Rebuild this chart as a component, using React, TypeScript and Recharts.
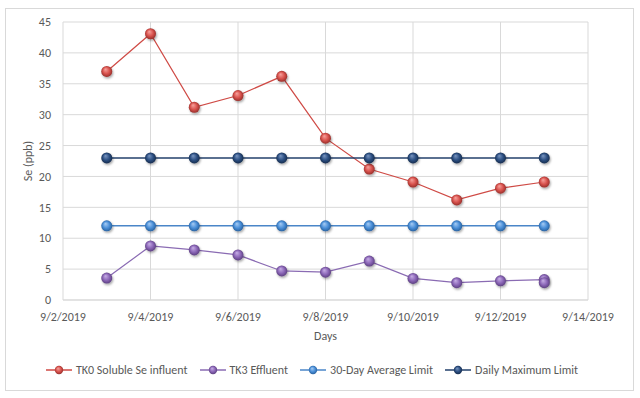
import React from 'react';
import { LineChart, Line, XAxis, YAxis, CartesianGrid, Legend } from 'recharts';

const sampleDates = [
  '2019-09-03', '2019-09-04', '2019-09-05', '2019-09-06', '2019-09-07', '2019-09-08',
  '2019-09-09', '2019-09-10', '2019-09-11', '2019-09-12', '2019-09-13',
];
const tk0Values = [37, 43.1, 31.2, 33.1, 36.2, 26.2, 21.2, 19.1, 16.2, 18.1, 19.1];
const tk3Dates = [
  '2019-09-03', '2019-09-04', '2019-09-05', '2019-09-06', '2019-09-07', '2019-09-08',
  '2019-09-09', '2019-09-10', '2019-09-11', '2019-09-12', '2019-09-13', '2019-09-13',
];
const tk3Values = [3.55, 8.75, 8.1, 7.3, 4.7, 4.5, 6.3, 3.5, 2.8, 3.1, 3.3, 2.8];
const avgLimitValues = [12, 12, 12, 12, 12, 12, 12, 12, 12, 12, 12];
const dailyMaxValues = [23, 23, 23, 23, 23, 23, 23, 23, 23, 23, 23];
const xTickDates = ['2019-09-02', '2019-09-04', '2019-09-06', '2019-09-08', '2019-09-10', '2019-09-12', '2019-09-14'];
const yTicks = [0, 5, 10, 15, 20, 25, 30, 35, 40, 45];

const seriesNames = ['TK0 Soluble Se influent', 'TK3 Effluent', '30-Day Average Limit', 'Daily Maximum Limit'];

const toDay = (s: string) => {
  const [y, m, d] = s.split('-').map(Number);
  return Date.UTC(y, m - 1, d) / 86400000;
};
const fmtDay = (v: number) => {
  const dt = new Date(v * 86400000);
  return `${dt.getUTCMonth() + 1}/${dt.getUTCDate()}/${dt.getUTCFullYear()}`;
};
const build = (dates: string[], vals: number[]) => dates.map((d, i) => ({ t: toDay(d), v: vals[i] }));

const tk0Data = build(sampleDates, tk0Values);
const tk3Data = build(tk3Dates, tk3Values);
const avgData = build(sampleDates, avgLimitValues);
const maxData = build(sampleDates, dailyMaxValues);
const xTicks = xTickDates.map(toDay);

const FONT = '"Liberation Sans Narrow", Carlito, Lato, "Open Sans", sans-serif';
const TEXT = '#595959';

const styles = [
  { line: '#cf4a45', lw: 1.2, grad: 'gRed' },
  { line: '#8a6bb3', lw: 1.2, grad: 'gPur' },
  { line: '#4a86c8', lw: 1.5, grad: 'gLb' },
  { line: '#23406b', lw: 1.5, grad: 'gDb' },
];

const grads = [
  { id: 'gRed', hi: '#f7a39e', mid: '#d9534e', lo: '#8e2a26' },
  { id: 'gPur', hi: '#c8b0e6', mid: '#8c67b8', lo: '#553a78' },
  { id: 'gLb', hi: '#a9cdf4', mid: '#4a8fd8', lo: '#235a96' },
  { id: 'gDb', hi: '#7b97c2', mid: '#2c4f82', lo: '#142846' },
];

const dotProps = (g: string) => ({ r: 5.5, fill: `url(#${g})`, stroke: 'none', filter: 'url(#shadow)' });

const LegendContent = () => {
  return (
    <div style={{ display: 'flex', justifyContent: 'center', fontFamily: FONT, fontSize: 12, color: TEXT, paddingLeft: 36 }}>
      {seriesNames.map((name, i) => {
        const st = styles[i];
        return (
          <div key={name} style={{ display: 'flex', alignItems: 'center', marginRight: i < seriesNames.length - 1 ? 12 : 0 }}>
            <svg width={26} height={12} style={{ marginRight: 4 }}>
              <line x1={0} y1={6} x2={26} y2={6} stroke={st.line} strokeWidth={1.5} />
              <circle cx={13} cy={6} r={4.2} fill={`url(#${st.grad})`} />
            </svg>
            <span>{name}</span>
          </div>
        );
      })}
    </div>
  );
};

export default function App() {
  return (
    <div style={{ position: 'absolute', left: 0, top: 0, width: 640, height: 398, background: '#fff' }}>
      <div style={{ position: 'absolute', left: 5, top: 8, width: 627, height: 381, border: '1px solid #d9d9d9' }} />
      <svg width={0} height={0} style={{ position: 'absolute' }}>
        <defs>
          {grads.map((g) => (
            <radialGradient key={g.id} id={g.id} cx="50%" cy="50%" r="55%" fx="38%" fy="30%">
              <stop offset="0%" stopColor={g.hi} />
              <stop offset="55%" stopColor={g.mid} />
              <stop offset="100%" stopColor={g.lo} />
            </radialGradient>
          ))}
          <filter id="shadow" x="-50%" y="-50%" width="200%" height="200%">
            <feDropShadow dx="1" dy="1.5" stdDeviation="1.2" floodColor="#000" floodOpacity="0.35" />
          </filter>
        </defs>
      </svg>
      <div style={{ position: 'absolute', left: 0, top: 0 }}>
        <LineChart width={640} height={398} margin={{ top: 22, right: 52, bottom: 5, left: 0 }}>
          <CartesianGrid stroke="#d9d9d9" strokeWidth={1} verticalValues={xTicks} horizontalValues={yTicks} />
          <XAxis
            dataKey="t"
            type="number"
            domain={[xTicks[0], xTicks[xTicks.length - 1]]}
            ticks={xTicks}
            tickFormatter={fmtDay}
            allowDuplicatedCategory={false}
            axisLine={{ stroke: '#d9d9d9' }}
            tickLine={false}
            tickMargin={6}
            height={63}
            tick={{ fill: TEXT, fontSize: 12, fontFamily: FONT }}
            label={{ value: 'Days', position: 'insideBottom', offset: 23, fill: TEXT, fontSize: 12, fontFamily: FONT }}
          />
          <YAxis
            type="number"
            domain={[0, 45]}
            ticks={yTicks}
            width={63}
            axisLine={false}
            tickLine={false}
            tickMargin={6}
            tick={{ fill: TEXT, fontSize: 12, fontFamily: FONT }}
            label={{ value: 'Se (ppb)', angle: -90, position: 'insideLeft', offset: 28, fill: TEXT, fontSize: 12, fontFamily: FONT, style: { textAnchor: 'middle' } }}
          />
          <Legend verticalAlign="bottom" height={30} content={LegendContent} />
          <Line data={tk0Data} dataKey="v" name={seriesNames[0]} stroke={styles[0].line} strokeWidth={styles[0].lw} dot={dotProps('gRed')} activeDot={false} isAnimationActive={false} />
          <Line data={tk3Data} dataKey="v" name={seriesNames[1]} stroke={styles[1].line} strokeWidth={styles[1].lw} dot={dotProps('gPur')} activeDot={false} isAnimationActive={false} />
          <Line data={avgData} dataKey="v" name={seriesNames[2]} stroke={styles[2].line} strokeWidth={styles[2].lw} dot={dotProps('gLb')} activeDot={false} isAnimationActive={false} />
          <Line data={maxData} dataKey="v" name={seriesNames[3]} stroke={styles[3].line} strokeWidth={styles[3].lw} dot={dotProps('gDb')} activeDot={false} isAnimationActive={false} />
        </LineChart>
      </div>
    </div>
  );
}
